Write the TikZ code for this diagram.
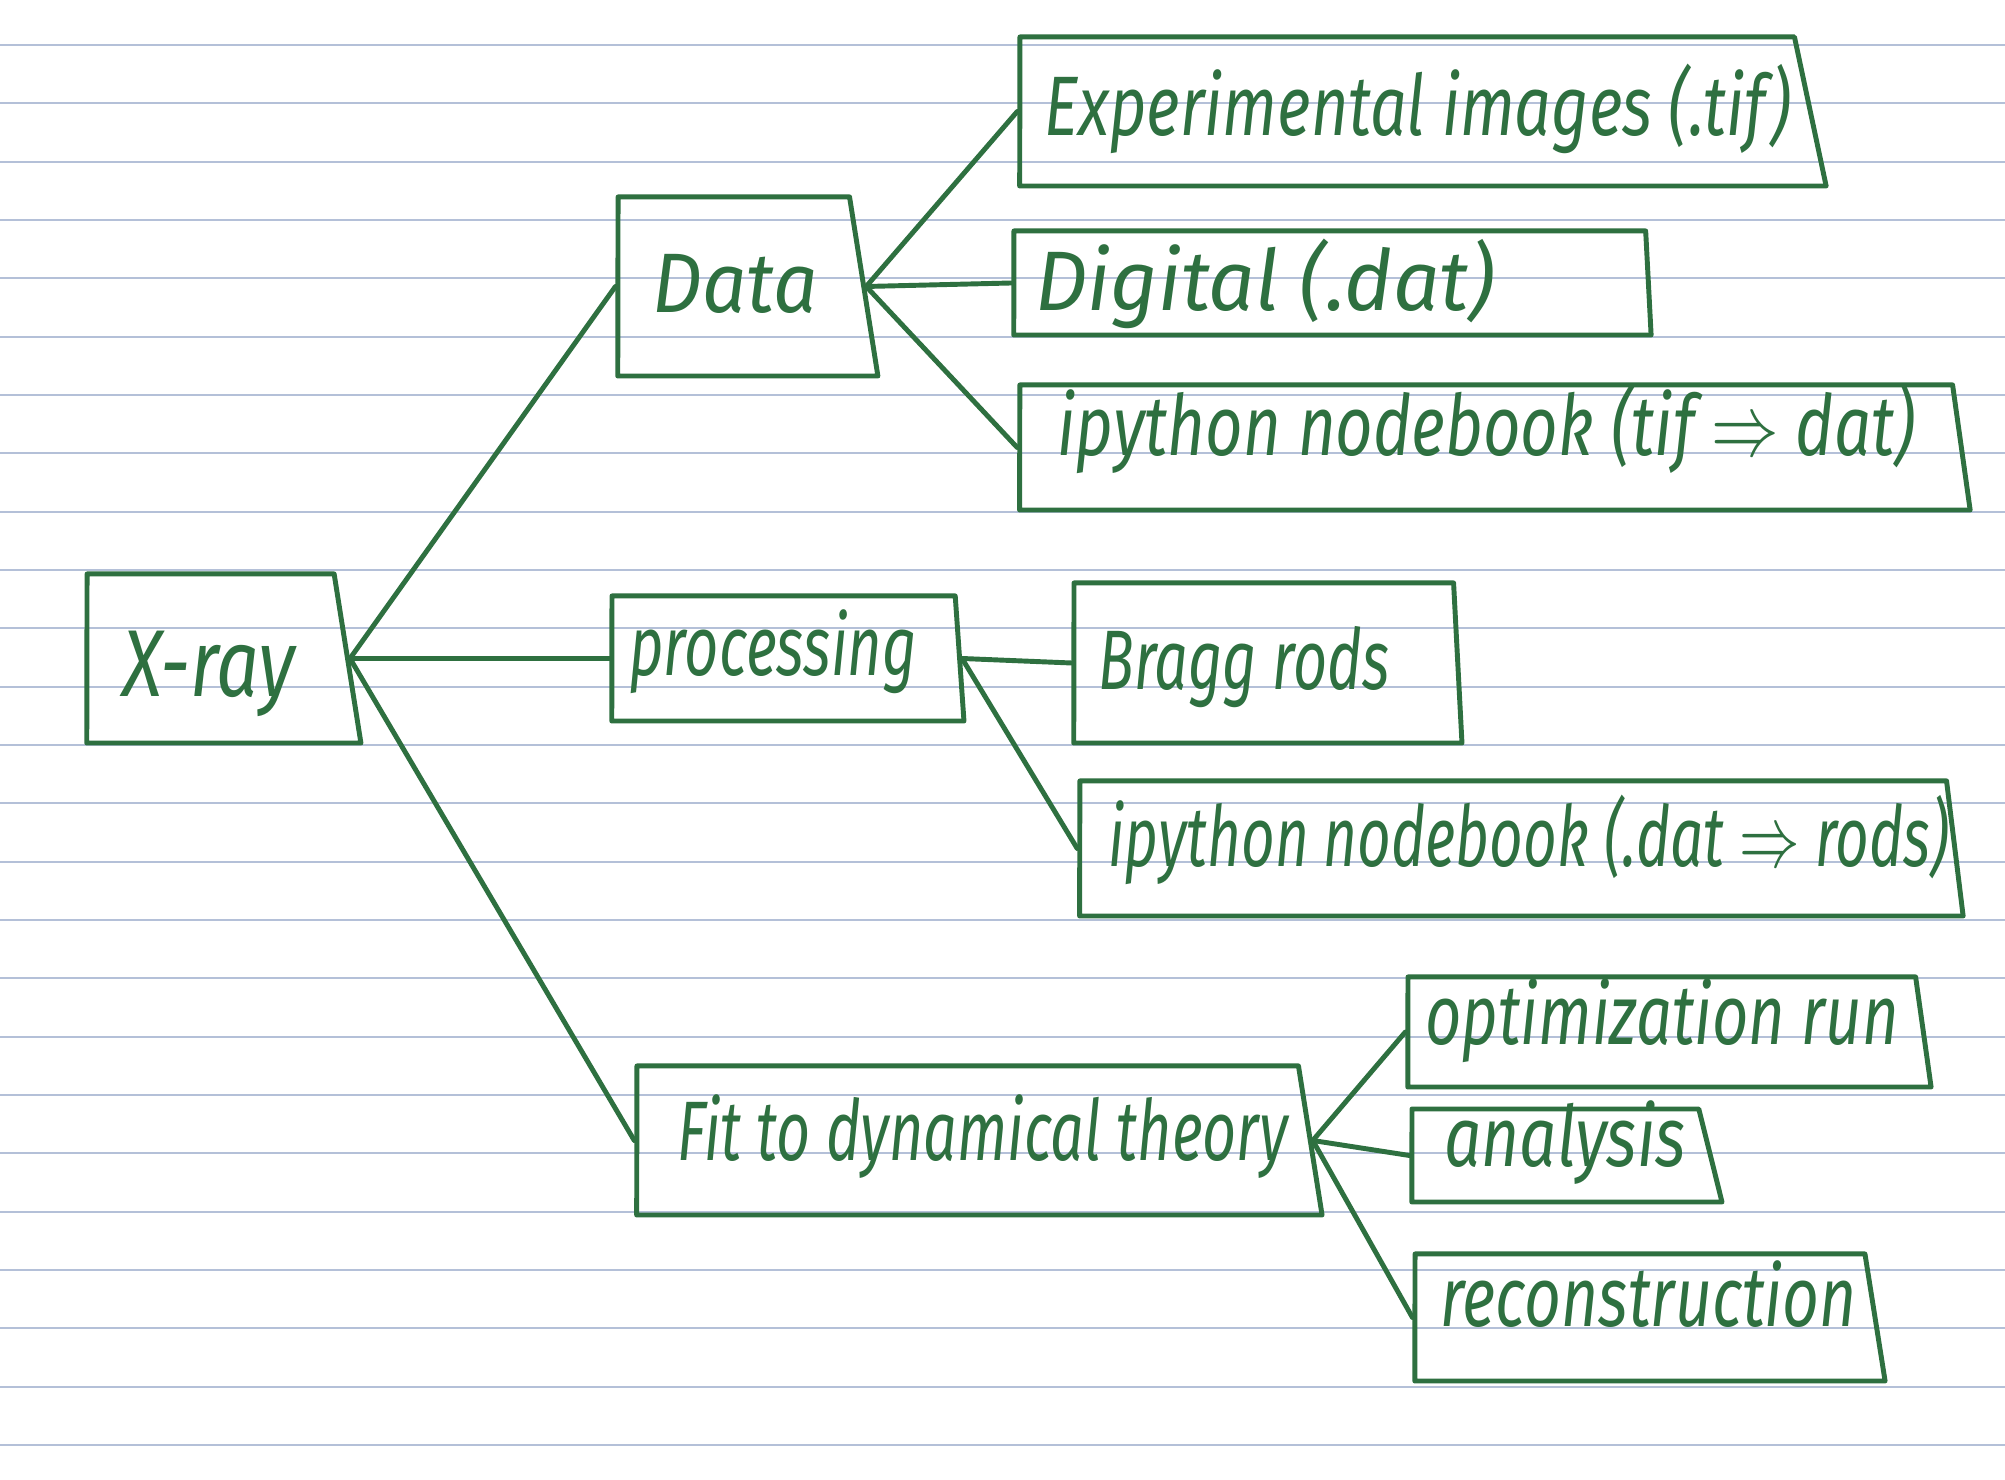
\documentclass[tikz,border=0pt]{standalone}
\usepackage{fontspec}
\setmainfont{Fira Sans}
\usepackage{graphicx}
\usepackage{tikz}
\usetikzlibrary{shapes.geometric}
\definecolor{ink}{HTML}{2E7040}
\definecolor{paperrule}{HTML}{B4C0D8}
\newcommand{\handtext}[2]{\resizebox{#1}{\height}{#2}}

\begin{document}
\begin{tikzpicture}[x=0.01cm,y=-0.01cm,line width=1.4pt,line join=round,line cap=round,
  box node/.style={trapezium,draw=ink,trapezium left angle=89.9,trapezium stretches body=true,inner xsep=2pt},
  hand node/.style={anchor=base west,inner sep=0pt,text=ink,font=\itshape\fontsize{24}{28}\selectfont}]

  \fill[white] (0,0) rectangle (2005,1480);
  \useasboundingbox (0,0) rectangle (2005,1480);
  \foreach \k in {0,...,24}
    \draw[paperrule,line width=0.6pt] (0,{45+58.33*\k}) -- (2005,{45+58.33*\k});

  \node[box node,minimum width=2.74cm,inner ysep=0.845cm,trapezium right angle=81] (1) at (210.6,658.5) {};
  \node[box node,minimum width=2.60cm,inner ysep=0.895cm,trapezium right angle=81] (2) at (733.8,286.5) {};
  \node[box node,minimum width=3.52cm,inner ysep=0.625cm,trapezium right angle=86] (3) at (783.6,658.5) {};
  \node[box node,minimum width=6.85cm,inner ysep=0.745cm,trapezium right angle=81] (4) at (967.7,1140.5) {};
  \node[box node,minimum width=8.06cm,inner ysep=0.745cm,trapezium right angle=78] (5) at (1407.2,111.5) {};
  \node[box node,minimum width=6.37cm,inner ysep=0.52cm,trapezium right angle=87] (6) at (1329.8,283) {};
  \node[box node,minimum width=9.50cm,inner ysep=0.625cm,trapezium right angle=82] (7) at (1486.2,447.5) {};
  \node[box node,minimum width=3.88cm,inner ysep=0.80cm,trapezium right angle=87] (8) at (1263.8,663) {};
  \node[box node,minimum width=8.83cm,inner ysep=0.675cm,trapezium right angle=83] (9) at (1513.2,848.5) {};
  \node[box node,minimum width=5.23cm,inner ysep=0.55cm,trapezium right angle=82] (10) at (1661.8,1032) {};
  \node[box node,minimum width=3.10cm,inner ysep=0.465cm,trapezium right angle=76] (11) at (1555.4,1155.5) {};
  \node[box node,minimum width=4.70cm,inner ysep=0.635cm,trapezium right angle=81] (12) at (1640,1317.5) {};

  \node[hand node,font=\itshape\fontsize{27}{30}\selectfont] (1t) at (120,697) {\handtext{1.73cm}{X-ray}};
  \node[hand node] (2t) at (650,313) {\handtext{1.65cm}{Data}};
  \node[hand node] (3t) at (627,676) {\handtext{2.87cm}{processing}};
  \node[hand node] (4t) at (675,1161) {\handtext{6.10cm}{Fit to dynamical theory}};
  \node[hand node] (5t) at (1042,136) {\handtext{7.46cm}{Experimental images (.tif)}};
  \node[hand node] (6t) at (1033,311) {\handtext{4.59cm}{Digital (.dat)}};
  \node[hand node] (7t) at (1055,456) {\handtext{8.57cm}{ipython nodebook (tif $\Rightarrow$ dat)}};
  \node[hand node] (8t) at (1096,690) {\handtext{2.91cm}{Bragg rods}};
  \node[hand node] (9t) at (1106,867) {\handtext{8.40cm}{ipython nodebook (.dat $\Rightarrow$ rods)}};
  \node[hand node] (10t) at (1423,1045) {\handtext{4.73cm}{optimization run}};
  \node[hand node] (11t) at (1442,1167) {\handtext{2.41cm}{analysis}};
  \node[hand node] (12t) at (1438,1327) {\handtext{4.16cm}{reconstruction}};

  \path[draw=ink]
    (1.east) edge (2.west)
             edge (3.west)
             edge (4.west);
  \path[draw=ink]
    (2.east) edge (5.west)
             edge (6.west)
             edge (7.west);
  \path[draw=ink]
    (3.east) edge (8.west)
             edge (9.west);
  \path[draw=ink]
    (4.east) edge (10.west)
             edge (11.west)
             edge (12.west);

\end{tikzpicture}
\end{document}
